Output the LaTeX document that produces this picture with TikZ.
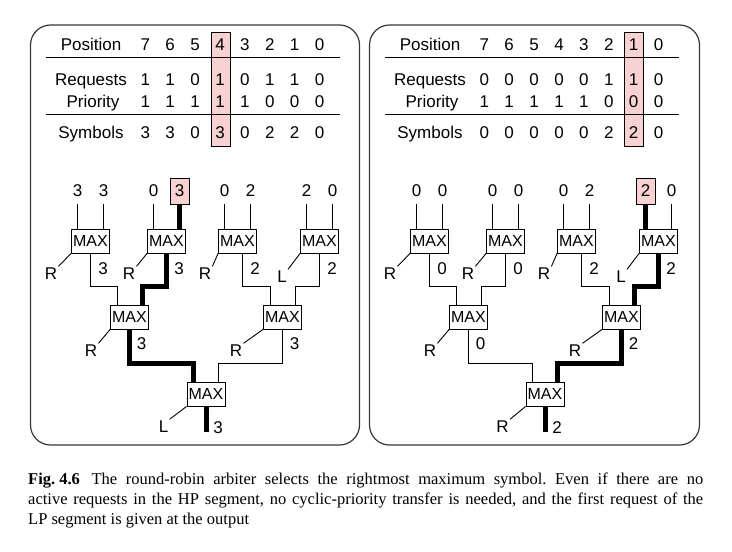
\documentclass[tikz,border=0pt]{standalone}
\usepackage{fontspec}
\setmainfont{Liberation Serif}
\newfontfamily\arialf{Liberation Sans}
\usetikzlibrary{calc}
\pgfdeclarelayer{background}
\pgfsetlayers{background,main}
\definecolor{hlpink}{RGB}{248,210,210}
\definecolor{panelgray}{RGB}{55,55,55}
\begin{document}
\begin{tikzpicture}[x=1pt,y=-1pt,
  every node/.style={font=\arialf\fontsize{17}{20}\selectfont},
  maxbox/.style={draw, fill=white, line width=0.8pt, minimum width=38pt, minimum height=24pt, inner sep=0pt, font=\arialf\fontsize{16}{18}\selectfont},
  innode/.style={minimum width=19pt, minimum height=26pt, inner sep=0pt},
  hlin/.style={innode, draw, fill=hlpink, line width=0.8pt},
  hlcol/.style={draw, fill=hlpink, line width=0.8pt, minimum width=19pt, minimum height=114pt, inner sep=0pt},
  lbl/.style={inner sep=1pt},
  tnum/.style={anchor=base, inner sep=0pt},
  wire/.style={line width=0.9pt},
  hot/.style={line width=5pt},
  panel/.style={draw=panelgray, line width=1.2pt, rounded corners=20pt},
  rule/.style={line width=1pt},
]
\useasboundingbox (0,0) rectangle (732,552);

% ---------- generic tree skeleton ----------
\newcommand\treeskel[1]{%
  \node[maxbox] (#1b1) at (90.5,241) {MAX};
  \node[maxbox] (#1b2) at (166.5,241) {MAX};
  \node[maxbox] (#1b3) at (237.5,241) {MAX};
  \node[maxbox] (#1b4) at (319.5,241) {MAX};
  \node[maxbox] (#1c1) at (129.5,317) {MAX};
  \node[maxbox] (#1c2) at (282.5,317) {MAX};
  \node[maxbox] (#1d) at (206,394) {MAX};
  \coordinate (#1c1l) at ($(#1c1.north)+(-12.5,0)$);
  \coordinate (#1c1r) at ($(#1c1.north)+(12.5,0)$);
  \coordinate (#1c2l) at ($(#1c2.north)+(-12.5,0)$);
  \coordinate (#1c2r) at ($(#1c2.north)+(12.5,0)$);
  \coordinate (#1dl) at ($(#1d.north)+(-12.5,0)$);
  \coordinate (#1dr) at ($(#1d.north)+(12.5,0)$);
  \coordinate (#1b3o) at ($(#1b3.south)+(5,0)$);
  \coordinate (#1out) at ($(#1d.south)+(0,26)$);
  \begin{pgfonlayer}{background}
    \draw[wire] (#1b1.south) -- ++(0,33) -| (#1c1l);
    \draw[wire] (#1b2.south) -- ++(0,33) -| (#1c1r);
    \draw[wire] (#1b3o) -- ++(0,33) -| (#1c2l);
    \draw[wire] (#1b4.south) -- ++(0,33) -| (#1c2r);
    \draw[wire] (#1c1.south) -- ++(0,34) -| (#1dl);
    \draw[wire] (#1c2.south) -- ++(0,34) -| (#1dr);
  \end{pgfonlayer}
}
% inputs: prefix, then values
\newcommand\treeinputs[9]{%
  \node[innode] (#1i1) at (77.5,191) {#2};
  \node[innode] (#1i2) at (103.5,191) {#3};
  \node[innode] (#1i3) at (153.5,191) {#4};
  \node[innode] (#1i4) at (179.5,191) {#5};
  \node[innode] (#1i5) at (224.5,191) {#6};
  \node[innode] (#1i6) at (250.5,191) {#7};
  \node[innode] (#1i7) at (306.5,191) {#8};
  \node[innode] (#1i8) at (332.5,191) {#9};
  \draw[wire] (#1i1.south) -- (#1i1.south |- #1b1.north);
  \draw[wire] (#1i2.south) -- (#1i2.south |- #1b1.north);
  \draw[wire] (#1i3.south) -- (#1i3.south |- #1b2.north);
  \draw[wire] (#1i4.south) -- (#1i4.south |- #1b2.north);
  \draw[wire] (#1i5.south) -- (#1i5.south |- #1b3.north);
  \draw[wire] (#1i6.south) -- (#1i6.south |- #1b3.north);
  \draw[wire] (#1i7.south) -- (#1i7.south |- #1b4.north);
  \draw[wire] (#1i8.south) -- (#1i8.south |- #1b4.north);
}
% output values: prefix, 7 values
\newcommand\treevalues[8]{%
  \node[lbl] (#1v1) at ($(#1b1.south)+(12.5,15)$) {#2};
  \node[lbl] (#1v2) at ($(#1b2.south)+(12.5,15)$) {#3};
  \node[lbl] (#1v3) at ($(#1b3o)+(12.5,15)$) {#4};
  \node[lbl] (#1v4) at ($(#1b4.south)+(12.5,15)$) {#5};
  \node[lbl] (#1v5) at ($(#1c1.south)+(12,14)$) {#6};
  \node[lbl] (#1v6) at ($(#1c2.south)+(12,14)$) {#7};
  \node[lbl] (#1v7) at ($(#1d.south)+(12,21)$) {#8};
}
% side labels (R/L): prefix, 7 letters
\newcommand\treesides[8]{%
  \node[lbl] (#1s1) at ($(#1b1.south west)+(-20,20)$) {#2};
  \node[lbl] (#1s2) at ($(#1b2.south west)+(-18,20)$) {#3};
  \node[lbl] (#1s3) at ($(#1b3.south west)+(-13,20)$) {#4};
  \node[lbl] (#1s4) at ($(#1b4.south west)+(-18,23)$) {#5};
  \node[lbl] (#1s5) at ($(#1c1.south west)+(-19,21)$) {#6};
  \node[lbl] (#1s6) at ($(#1c2.south west)+(-27,21)$) {#7};
  \node[lbl] (#1s7) at ($(#1d.south west)+(-23,20)$) {#8};
  \foreach \j/\bx in {1/b1,2/b2,3/b3,4/b4,5/c1,6/c2,7/d}
    \draw[wire] (#1\bx.south west) -- (#1s\j.north east);
}
% table: prefix, highlight column index
\newcommand\tableskel[2]{%
  \node[hlcol] (#1hl) at (145.3+24.9*#2+0.5,89) {};
  \node[tnum] (#1rp) at (91,50.7) {Position};
  \node[tnum] (#1rr) at (91,85) {Requests};
  \node[tnum] (#1rq) at (93,107.3) {Priority};
  \node[tnum] (#1rs) at (91,138.3) {Symbols};
  \draw[rule] (46,57) -- (340,57);
  \draw[rule] (46,114) -- (340,114);
  \foreach \v [count=\k from 0] in {7,6,5,4,3,2,1,0}
    \node[tnum] (#1p\k) at (145.3+24.9*\k,50.7) {\v};
}
\newcommand\tablerow[3]{%
  \foreach \v [count=\k from 0] in {#3}
    \node[tnum] (#1#2\k) at (145.3+24.9*\k,\rowy) {\v};
}

% ================= LEFT PANEL =================
\draw[panel] (30.5,25) rectangle (359.5,445);
\tableskel{A}{3}
\def\rowy{85}\tablerow{A}{r}{1,1,0,1,0,1,1,0}
\def\rowy{107.3}\tablerow{A}{q}{1,1,1,1,1,0,0,0}
\def\rowy{138.3}\tablerow{A}{s}{3,3,0,3,0,2,2,0}
\treeskel{A}
\treeinputs{A}{3}{3}{0}{3}{0}{2}{2}{0}
\node[hlin] (Ahi) at (Ai4) {3};
\treevalues{A}{3}{3}{2}{2}{3}{3}{3}
\treesides{A}{R}{R}{R}{L}{R}{R}{L}
\begin{pgfonlayer}{background}
  \draw[hot] (Ahi.south) -- (Ahi.south |- Ab2.north);
  \draw[hot] (Ab2.south) -- ++(0,33) -| (Ac1r);
  \draw[hot] (Ac1.south) -- ++(0,34) -| (Adl);
\end{pgfonlayer}
\draw[hot] (Ad.south) -- (Aout);

% ================= RIGHT PANEL =================
\begin{scope}[xshift=339pt]
\draw[panel] (30.5,25) rectangle (360.5,445);
\tableskel{B}{6}
\def\rowy{85}\tablerow{B}{r}{0,0,0,0,0,1,1,0}
\def\rowy{107.3}\tablerow{B}{q}{1,1,1,1,1,0,0,0}
\def\rowy{138.3}\tablerow{B}{s}{0,0,0,0,0,2,2,0}
\treeskel{B}
\treeinputs{B}{0}{0}{0}{0}{0}{2}{2}{0}
\node[hlin] (Bhi) at (Bi7) {2};
\treevalues{B}{0}{0}{2}{2}{0}{2}{2}
\treesides{B}{R}{R}{R}{L}{R}{R}{R}
\begin{pgfonlayer}{background}
  \draw[hot] (Bhi.south) -- (Bhi.south |- Bb4.north);
  \draw[hot] (Bb4.south) -- ++(0,33) -| (Bc2r);
  \draw[hot] (Bc2.south) -- ++(0,34) -| (Bdr);
\end{pgfonlayer}
\draw[hot] (Bd.south) -- (Bout);
\end{scope}

% ================= CAPTION =================
\node[anchor=north west, inner sep=0pt, text width=675pt, align=justify,
      font=\rmfamily\fontsize{16.5}{20}\selectfont\frenchspacing] (cap) at (28,472.5)
  {\mbox{\textbf{Fig.\kern0.25em4.6}}\hspace{0.7em}The round-robin arbiter selects the rightmost maximum symbol. Even if there are no\linebreak active requests in the HP segment, no cyclic-priority transfer is needed, and the first request of the\linebreak LP segment is given at the output};
\end{tikzpicture}
\end{document}
